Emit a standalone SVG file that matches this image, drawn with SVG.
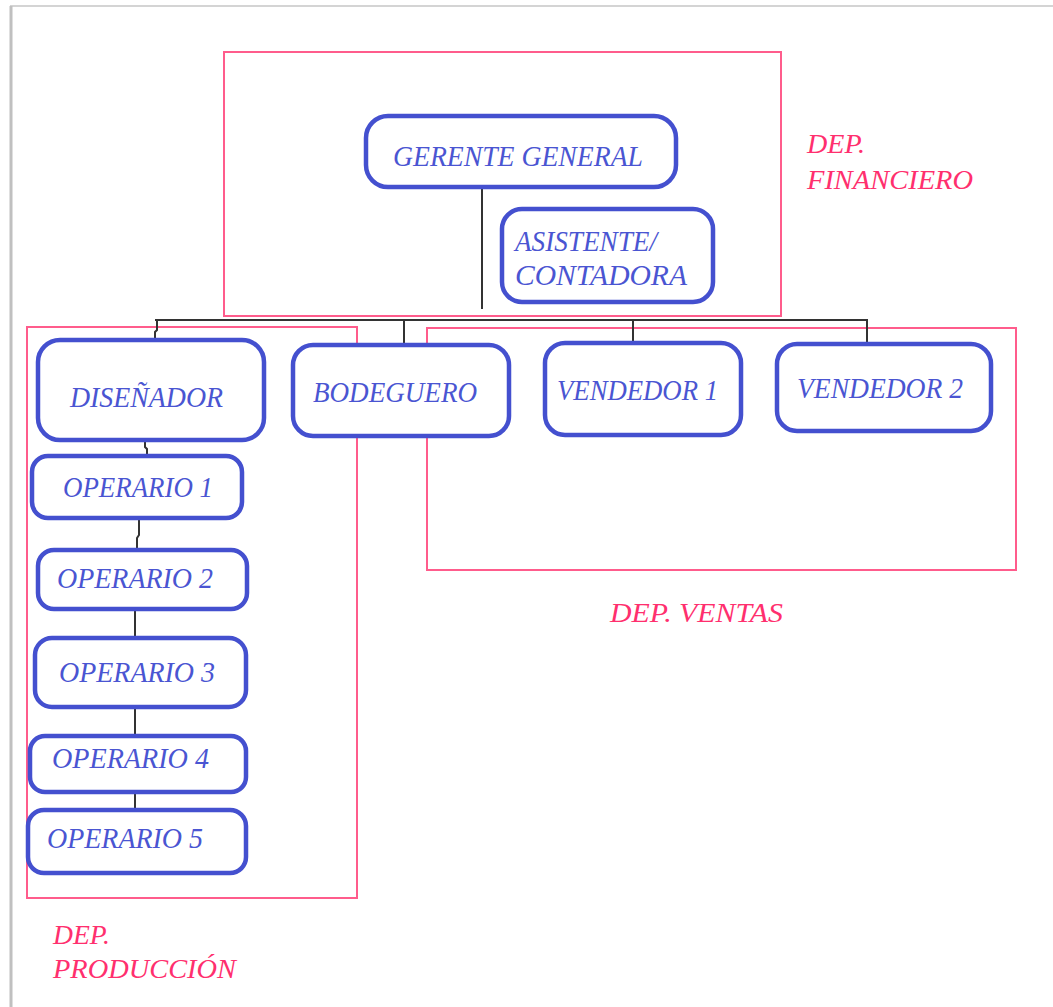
<svg xmlns="http://www.w3.org/2000/svg" width="1053" height="1007" viewBox="0 0 1053 1007">
<style>
.dept{fill:none;stroke:#ff5c8c;stroke-width:2}
.node{fill:#ffffff;stroke:#4450cf;stroke-width:4.5}
.t{font-family:"Liberation Serif","Times New Roman",serif;font-style:italic;fill:#4a55d2;font-size:30px}
.lbl{font-family:"Liberation Serif","Times New Roman",serif;font-style:italic;fill:#ff2f6e;font-size:28px}
.conn{fill:none;stroke:#333333;stroke-width:2}
</style>
<rect width="1053" height="1007" fill="#ffffff"/>
<g id="page-border">
<line x1="10" y1="6" x2="1053" y2="6" stroke="#d4d4d4" stroke-width="2"/>
<line x1="11" y1="6" x2="11" y2="1007" stroke="#c0c0c0" stroke-width="3"/>
</g>
<g id="departments">
<rect id="dep-financiero" class="dept" x="224" y="52" width="557" height="264"/>
<rect id="dep-produccion" class="dept" x="27" y="327" width="330" height="571"/>
<rect id="dep-ventas" class="dept" x="427" y="328" width="589" height="242"/>
</g>
<g id="connectors">
<line class="conn" x1="482" y1="186" x2="482" y2="309"/>
<line class="conn" x1="155" y1="320" x2="868" y2="320"/>
<polyline class="conn" points="157,320 157,330 155,332 155,340"/>
<line class="conn" x1="404" y1="320" x2="404" y2="345"/>
<line class="conn" x1="633" y1="320" x2="633" y2="343"/>
<line class="conn" x1="867" y1="320" x2="867" y2="345"/>
<polyline class="conn" points="145,440 145,447 147,449 147,456"/>
<polyline class="conn" points="139,518 139,535 137,538 137,550"/>
<line class="conn" x1="135" y1="609" x2="135" y2="637"/>
<line class="conn" x1="135" y1="707" x2="135" y2="736"/>
<line class="conn" x1="135" y1="792" x2="135" y2="817"/>
</g>
<g id="gerente-general">
<rect class="node" x="366" y="116" width="310" height="71" rx="22"/>
<text class="t" x="393" y="166" font-size="33" textLength="250" lengthAdjust="spacingAndGlyphs">GERENTE GENERAL</text>
</g>
<g id="asistente-contadora">
<rect class="node" x="502" y="209" width="211" height="93" rx="20"/>
<text class="t" x="515" y="251" textLength="142" lengthAdjust="spacingAndGlyphs">ASISTENTE/</text>
<text class="t" x="515" y="285" textLength="172" lengthAdjust="spacingAndGlyphs">CONTADORA</text>
</g>
<g id="disenador">
<rect class="node" x="38" y="340" width="226" height="100" rx="22"/>
<text class="t" x="70" y="407" font-size="32" textLength="153" lengthAdjust="spacingAndGlyphs">DISEÑADOR</text>
</g>
<g id="bodeguero">
<rect class="node" x="293" y="345" width="216" height="91" rx="20"/>
<text class="t" x="313" y="402" textLength="164" lengthAdjust="spacingAndGlyphs">BODEGUERO</text>
</g>
<g id="vendedor-1">
<rect class="node" x="545" y="343" width="196" height="92" rx="20"/>
<text class="t" x="557" y="400" textLength="161" lengthAdjust="spacingAndGlyphs">VENDEDOR 1</text>
</g>
<g id="vendedor-2">
<rect class="node" x="777" y="344" width="214" height="87" rx="20"/>
<text class="t" x="797" y="398" textLength="166" lengthAdjust="spacingAndGlyphs">VENDEDOR 2</text>
</g>
<g id="operario-1">
<rect class="node" x="32" y="456" width="210" height="62" rx="16"/>
<text class="t" x="63" y="497" textLength="150" lengthAdjust="spacingAndGlyphs">OPERARIO 1</text>
</g>
<g id="operario-2">
<rect class="node" x="38" y="550" width="209" height="59" rx="16"/>
<text class="t" x="57" y="588" textLength="156" lengthAdjust="spacingAndGlyphs">OPERARIO 2</text>
</g>
<g id="operario-3">
<rect class="node" x="35" y="638" width="211" height="69" rx="17"/>
<text class="t" x="59" y="682" textLength="156" lengthAdjust="spacingAndGlyphs">OPERARIO 3</text>
</g>
<g id="operario-4">
<rect class="node" x="30" y="736" width="216" height="56" rx="15"/>
<text class="t" x="52" y="768" textLength="157" lengthAdjust="spacingAndGlyphs">OPERARIO 4</text>
</g>
<g id="operario-5">
<rect class="node" x="28" y="810" width="218" height="63" rx="16"/>
<text class="t" x="47" y="848" textLength="156" lengthAdjust="spacingAndGlyphs">OPERARIO 5</text>
</g>
<g id="labels">
<text class="lbl" x="807" y="153" textLength="58" lengthAdjust="spacingAndGlyphs">DEP.</text>
<text class="lbl" x="807" y="189" textLength="166" lengthAdjust="spacingAndGlyphs">FINANCIERO</text>
<text class="lbl" x="610" y="622" textLength="173" lengthAdjust="spacingAndGlyphs">DEP. VENTAS</text>
<text class="lbl" x="53" y="944" textLength="57" lengthAdjust="spacingAndGlyphs">DEP.</text>
<text class="lbl" x="53" y="978" textLength="183" lengthAdjust="spacingAndGlyphs">PRODUCCIÓN</text>
</g>
</svg>
